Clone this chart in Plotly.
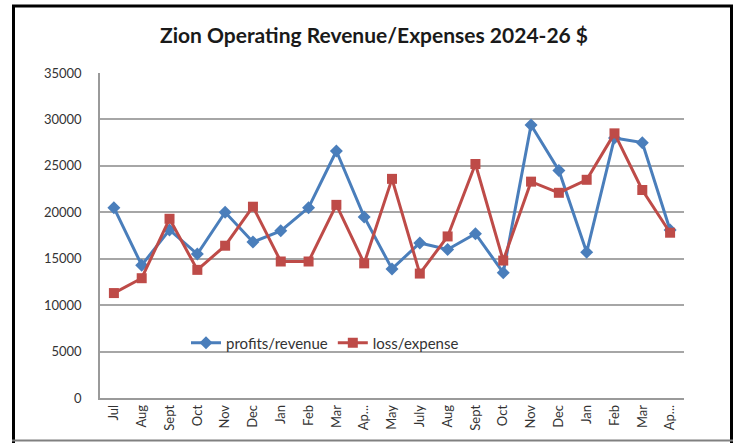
import plotly.graph_objects as go

months = ["Jul", "Aug", "Sept", "Oct", "Nov", "Dec", "Jan", "Feb", "Mar", "Ap...",
          "May", "July", "Aug", "Sept", "Oct", "Nov", "Dec", "Jan", "Feb", "Mar", "Ap..."]
revenue = [20500, 14300, 18100, 15500, 20000, 16800, 18000, 20500, 26600, 19500,
           13900, 16700, 16000, 17700, 13500, 29400, 24500, 15700, 28000, 27500, 18100]
expense = [11300, 12900, 19300, 13800, 16400, 20600, 14700, 14700, 20800, 14500,
           23600, 13400, 17400, 25200, 14800, 23300, 22100, 23500, 28500, 22400, 17800]
y_ticks = [0, 5000, 10000, 15000, 20000, 25000, 30000, 35000]

idx = list(range(len(months)))

W, H = 737, 443
L, R, T, B = 100, 53, 73, 45
pw, ph = W - L - R, H - T - B

def px(x):
    return (x - L) / pw

def py(y):
    return (H - B - y) / ph

fig = go.Figure()
fig.add_trace(go.Scatter(
    x=idx, y=revenue, name="profits/revenue", mode="lines+markers",
    line=dict(color="#4a7ebb", width=3),
    marker=dict(symbol="diamond", size=10, color="#4a7ebb"),
))
fig.add_trace(go.Scatter(
    x=idx, y=expense, name="loss/expense", mode="lines+markers",
    line=dict(color="#be4b48", width=3),
    marker=dict(symbol="square", size=10, color="#be4b48"),
))

shapes = [
    dict(type="line", xref="paper", yref="paper", x0=px(13.5), x1=px(13.5), y0=py(5), y1=py(443),
         line=dict(color="black", width=3)),
    dict(type="line", xref="paper", yref="paper", x0=px(12), x1=px(733), y0=py(6), y1=py(6),
         line=dict(color="black", width=3)),
    dict(type="line", xref="paper", yref="paper", x0=px(731.5), x1=px(731.5), y0=py(5), y1=py(443),
         line=dict(color="black", width=3)),
    dict(type="line", xref="paper", yref="paper", x0=px(12), x1=px(733), y0=py(440.5), y1=py(440.5),
         line=dict(color="#808080", width=2)),
]

fig.update_layout(
    width=W, height=H,
    margin=dict(l=L, r=R, t=T, b=B),
    paper_bgcolor="white", plot_bgcolor="white",
    title=dict(text="<b>Zion Operating Revenue/Expenses 2024-26 $</b>",
               xref="container", x=374 / W, xanchor="center",
               yref="container", y=1 - 36 / H, yanchor="middle",
               font=dict(family="Lato", size=21, color="#1a1a1a")),
    font=dict(family="Lato", size=13, color="#333333"),
    showlegend=True,
    legend=dict(orientation="h", x=px(186), y=py(343), xanchor="left", yanchor="middle",
                bgcolor="rgba(0,0,0,0)", font=dict(family="Lato", size=15, color="#333333"),
                itemwidth=30, tracegroupgap=0),
    shapes=shapes,
    xaxis=dict(range=[-0.5, len(months) - 0.5], tickmode="array", tickvals=idx, ticktext=months,
               tickangle=-90, showgrid=False, showline=True, linecolor="#9a9a9a", linewidth=1.5,
               ticks="", zeroline=False, tickfont=dict(size=13, family="Lato")),
    yaxis=dict(range=[0, 35000], tickmode="array", tickvals=y_ticks,
               ticktext=[str(v) for v in y_ticks], showgrid=True, gridcolor="#a6a6a6",
               gridwidth=1.5, showline=True, linecolor="#9a9a9a", linewidth=1.5,
               zeroline=False, ticks="", ticklabelstandoff=14,
               tickfont=dict(size=13, family="Lato")),
)

fig.write_html("out.html",
               post_script="document.body.style.margin='0';document.documentElement.style.overflow='hidden';")
